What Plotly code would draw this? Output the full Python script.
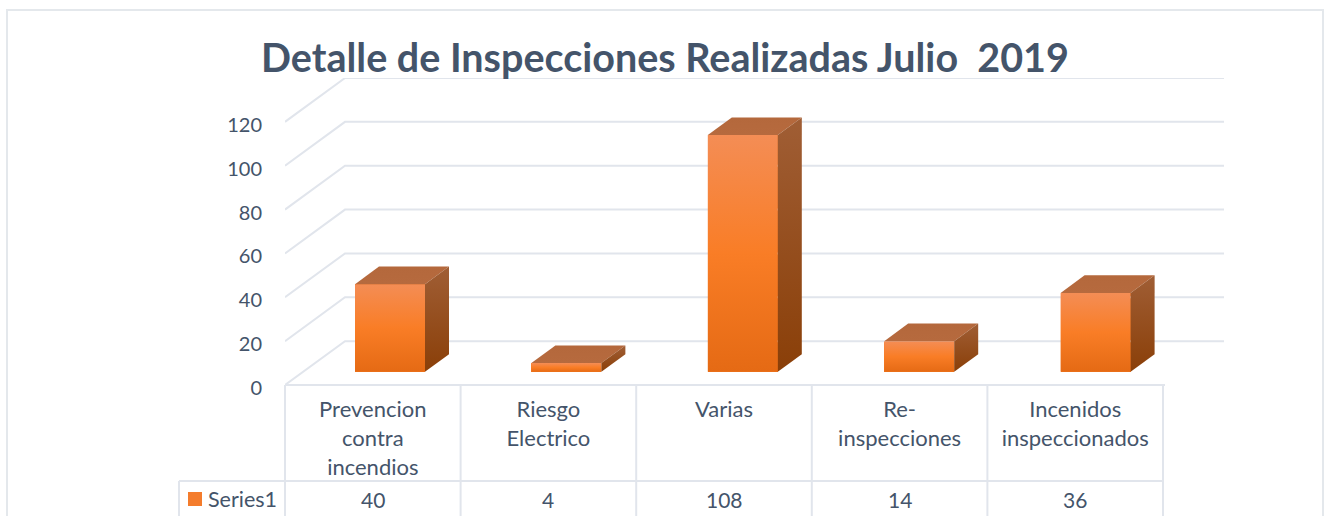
import plotly.graph_objects as go

title = "Detalle de Inspecciones Realizadas Julio  2019"
categories = ["Prevencion contra incendios", "Riesgo Electrico", "Varias", "Re-inspecciones", "Incenidos inspeccionados"]
category_labels = ["Prevencion<br>contra<br>incendios", "Riesgo<br>Electrico", "Varias", "Re-<br>inspecciones", "Incenidos<br>inspeccionados"]
series_name = "Series1"
values = [40, 4, 108, 14, 36]
y_ticks = [0, 20, 40, 60, 80, 100, 120]

W, H = 1325, 516
L, R, T, B = 285, 1224, 78, 385
CAT_PX = 175.6
Y_MAX = 140
XMIN = -0.5
XMAX = XMIN + (R - L) / CAT_PX

DEPTH_X = 60 / CAT_PX   # floor depth in category units
DEPTH_Y = 20            # floor depth in value units
BAR_W = 70 / CAT_PX
BAR_STEP = 176.4 / CAT_PX
BAR_START = (390 - L) / CAT_PX + XMIN
F0, F1 = 0.3, 0.7       # bar's front and back depth fractions

TEXT = "#44546A"
GRID = "#E1E5EC"

fig = go.Figure()

# perspective gridlines
for v in y_ticks:
    fig.add_trace(go.Scatter(
        x=[XMIN, XMIN + DEPTH_X, XMAX], y=[v, v + DEPTH_Y, v + DEPTH_Y],
        mode="lines", line=dict(color=GRID, width=2), hoverinfo="skip", showlegend=False))

# front faces as real bars
fx = [BAR_START + i * BAR_STEP for i in range(len(values))]
base = F0 * DEPTH_Y
fig.add_trace(go.Bar(x=fx, y=values, base=base, width=BAR_W, name=series_name,
                     marker=dict(color="#F87C24", line=dict(width=0)), showlegend=False))


def poly(xs, ys, stops):
    fig.add_trace(go.Scatter(
        x=xs + xs[:1], y=ys + ys[:1], mode="lines", fill="toself",
        line=dict(width=0), hoverinfo="skip", showlegend=False,
        fillgradient=dict(type="vertical", colorscale=stops)))


dx = (F1 - F0) * DEPTH_X
dy = (F1 - F0) * DEPTH_Y
for cx, v in zip(fx, values):
    x0, x1 = cx - BAR_W / 2, cx + BAR_W / 2
    y0, y1 = base, base + v
    # front gradient (colorscale 0 = bottom of bbox, 1 = top)
    poly([x0, x1, x1, x0], [y0, y0, y1, y1],
         [[0, "#E56A14"], [0.5, "#F97D26"], [1, "#F48D55"]])
    # top face
    poly([x0, x1, x1 + dx, x0 + dx], [y1, y1, y1 + dy, y1 + dy],
         [[0, "#B66A3E"], [1, "#B4683C"]])
    # side face
    poly([x1, x1 + dx, x1 + dx, x1], [y0, y0 + dy, y1 + dy, y1],
         [[0, "#8A3F08"], [1, "#A05E35"]])

pw = R - L
ph = B - T
def px(x): return (x - L) / pw
def py(y): return (B - y) / ph

def seg(x0, y0, x1, y1, w=2):
    fig.add_shape(type="line", xref="paper", yref="paper", x0=px(x0), x1=px(x1), y0=py(y0), y1=py(y1),
                  line=dict(color=GRID, width=w))

# outer frame
fig.add_shape(type="rect", xref="paper", yref="paper", x0=px(7), x1=px(1323), y0=py(10), y1=py(530),
              line=dict(color="#E4E8EC", width=2), layer="below")

# data table
for k in range(len(values) + 1):
    seg(L + k * CAT_PX, B, L + k * CAT_PX, 516)
seg(L, B, 1165, B)
seg(179, 481, 1163, 481)
seg(179, 481, 179, 516)

# value row and legend key
for i, v in enumerate(values):
    fig.add_annotation(x=i, y=py(499.5), xref="x", yref="paper", text=str(v), showarrow=False,
                       yanchor="middle", font=dict(family="Lato", size=21, color=TEXT))
fig.add_annotation(x=px(206), y=py(498.5), xref="paper", yref="paper", text=series_name, showarrow=False,
                   xanchor="left", yanchor="middle", font=dict(family="Lato", size=21.5, color=TEXT))
fig.add_shape(type="rect", xref="paper", yref="paper", x0=px(188), x1=px(202), y0=py(492), y1=py(506),
              line=dict(width=0), fillcolor="#F47C2C")

fig.update_layout(
    width=W, height=H, autosize=False,
    margin=dict(l=L, r=W - R, t=T, b=H - B, pad=0),
    paper_bgcolor="white", plot_bgcolor="rgba(0,0,0,0)",
    showlegend=False, bargap=0,
    title=dict(text=title, x=665 / W, xanchor="center", y=1 - 58 / H, yanchor="middle",
               font=dict(family="Lato", size=39.5, color=TEXT, weight="bold")),
    xaxis=dict(range=[XMIN, XMAX], tickmode="array", tickvals=list(range(len(values))),
               ticktext=category_labels, showgrid=False, zeroline=False, showline=False,
               ticks="outside", ticklen=5, tickcolor="rgba(0,0,0,0)",
               tickfont=dict(family="Lato", size=22, color=TEXT), automargin=False),
    yaxis=dict(range=[0, Y_MAX], tickmode="array", tickvals=y_ticks, showgrid=False, zeroline=False,
               showline=False, ticks="outside", ticklen=18, tickcolor="rgba(0,0,0,0)", ticklabelshift=3,
               tickfont=dict(family="Lato", size=20, color=TEXT), automargin=False),
)
fig.write_html("out.html", config={"displayModeBar": False},
               post_script="document.body.style.margin='0';document.documentElement.style.overflow='hidden';")
